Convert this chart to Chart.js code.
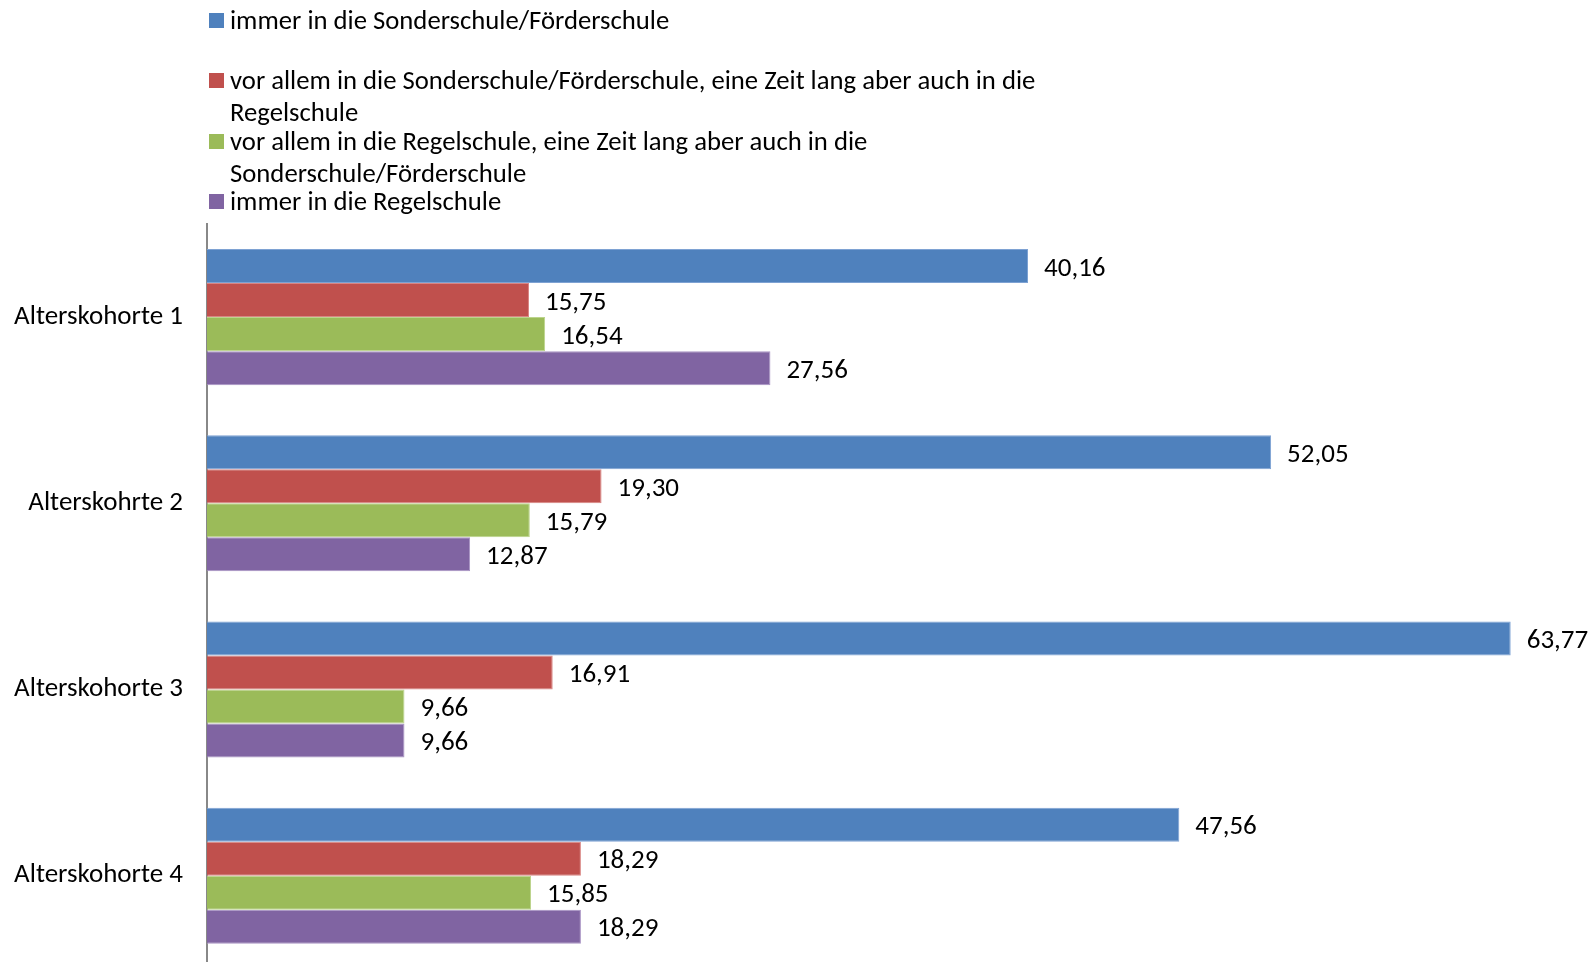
<!DOCTYPE html>
<html>
<head>
<meta charset="utf-8">
<script src="https://cdn.jsdelivr.net/npm/chart.js@4.4.1/dist/chart.umd.min.js"></script>
<style>
  html, body { margin: 0; padding: 0; background: #fff; overflow: hidden; }
  #wrap { position: relative; width: 1589px; height: 1001px; }
  #legend { position: absolute; left: 0; top: 0; font-family: Carlito, Lato, sans-serif; font-size: 26.7px; color: #000; }
  .item { position: absolute; left: 209px; white-space: nowrap; line-height: 32px; }
  .box { position: absolute; left: 0; top: 9px; width: 15px; height: 15px; }
  .txt { position: absolute; left: 21px; top: 0; }
</style>
</head>
<body>
<div id="wrap">
  <canvas id="chart" width="1589" height="1001"></canvas>
  <div id="legend"></div>
</div>
<script>
// categories (the "Alterskohrte" typo is in the original)
const categories = ["Alterskohorte 1", "Alterskohrte 2", "Alterskohorte 3", "Alterskohorte 4"];

// legend text, split the way the original wraps it
const seriesLabels = [
  ["immer in die Sonderschule/Förderschule"],
  ["vor allem in die Sonderschule/Förderschule, eine Zeit lang aber auch in die", "Regelschule"],
  ["vor allem in die Regelschule, eine Zeit lang aber auch in die", "Sonderschule/Förderschule"],
  ["immer in die Regelschule"]
];

// values per series, one per category
const immerSonder = [40.16, 52.05, 63.77, 47.56];
const vorAllemSonder = [15.75, 19.30, 16.91, 18.29];
const vorAllemRegel = [16.54, 15.79, 9.66, 15.85];
const immerRegel = [27.56, 12.87, 9.66, 18.29];

const seriesValues = [immerSonder, vorAllemSonder, vorAllemRegel, immerRegel];
const colors = ["#4F81BD", "#C0504D", "#9BBB59", "#8064A2"];
const borders = ["#7EA2D3", "#D98583", "#BCD48C", "#A893C3"];

const FONT = "Carlito, Lato, sans-serif";
const FONT_SIZE = 27;

// html legend, labels need two lines
const legendTops = [4, 64, 125, 185];
const legend = document.getElementById("legend");
seriesLabels.forEach((lines, i) => {
  const item = document.createElement("div");
  item.className = "item";
  item.style.top = legendTops[i] + "px";
  const box = document.createElement("div");
  box.className = "box";
  box.style.background = colors[i];
  const txt = document.createElement("div");
  txt.className = "txt";
  txt.innerHTML = lines.join("<br>");
  item.appendChild(box);
  item.appendChild(txt);
  legend.appendChild(item);
});

// value labels to the right of each bar
const valueLabels = {
  id: "valueLabels",
  afterDatasetsDraw(chart) {
    const ctx = chart.ctx;
    ctx.save();
    ctx.font = FONT_SIZE + "px " + FONT;
    ctx.fillStyle = "#000";
    ctx.textAlign = "left";
    ctx.textBaseline = "middle";
    chart.data.datasets.forEach((ds, i) => {
      chart.getDatasetMeta(i).data.forEach((bar, j) => {
        const text = ds.data[j].toFixed(2).replace(".", ",");
        ctx.fillText(text, bar.x + 16, bar.y + 3);
      });
    });
    ctx.restore();
  }
};

new Chart(document.getElementById("chart"), {
  type: "bar",
  data: {
    labels: categories,
    datasets: seriesValues.map((vals, i) => ({
      label: seriesLabels[i].join(" "),
      data: vals,
      backgroundColor: colors[i],
      borderColor: borders[i],
      borderWidth: 1,
      categoryPercentage: 0.731,
      barPercentage: 1
    }))
  },
  options: {
    indexAxis: "y",
    responsive: false,
    animation: false,
    // tick padding also pads the bottom, so the canvas runs past the window
    layout: { padding: { top: 224, bottom: 2, left: 0, right: 0 } },
    scales: {
      x: { display: false, min: 0, max: 67.6 },
      y: {
        grid: { display: false },
        border: { display: true, color: "#888888", width: 2 },
        ticks: { color: "#000", padding: 16, font: { family: FONT, size: FONT_SIZE } },
        afterFit(scale) { scale.width = 207; }
      }
    },
    plugins: {
      legend: { display: false },
      tooltip: { enabled: false }
    }
  },
  plugins: [valueLabels]
});
</script>
</body>
</html>
